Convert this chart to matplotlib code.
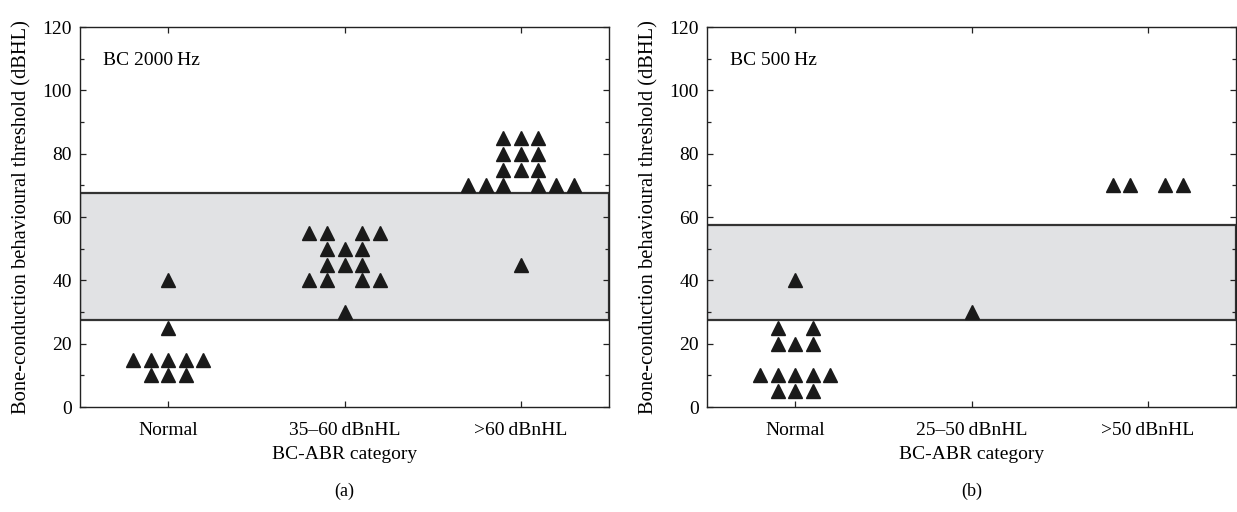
import numpy as np
import matplotlib.pyplot as plt
from matplotlib.ticker import MultipleLocator
from collections import Counter

plt.rcParams['font.family'] = ['Liberation Serif', 'DejaVu Serif']

#### Data ####
cats_a = ['Normal', '35\u201360\u2009dBnHL', '>60\u2009dBnHL']
vals_a = [
    [40, 25, 15, 15, 15, 15, 15, 10, 10, 10],
    [55, 55, 55, 55, 50, 50, 50, 45, 45, 45, 40, 40, 40, 40, 30],
    [85, 85, 85, 80, 80, 80, 75, 75, 75, 70, 70, 70, 70, 70, 70, 45],
]
band_a = [27.5, 67.5]
title_a = 'BC 2000\u2009Hz'

cats_b = ['Normal', '25\u201350\u2009dBnHL', '>50\u2009dBnHL']
vals_b = [
    [40, 25, 25, 20, 20, 20, 10, 10, 10, 10, 10, 5, 5, 5],
    [30],
    [70, 70, 70, 70],
]
band_b = [27.5, 57.5]
title_b = 'BC 500\u2009Hz'

ylab = 'Bone-conduction behavioural threshold (dBHL)'
xlab = 'BC-ABR category'

FS = 14


def spread(vals, step=0.1):
    # odd counts centred on the category, even counts leave the centre free
    xs, ys = [], []
    for v, n in Counter(vals).items():
        if n % 2:
            offs = (np.arange(n) - (n - 1) / 2) * step
        else:
            k = np.arange(1, n // 2 + 1) * step
            offs = np.concatenate([-k[::-1], k])
        xs.extend(offs)
        ys.extend([v] * n)
    return np.array(xs), np.array(ys)


def panel(ax, cats, vals, band, title, tag):
    ax.axhspan(band[0], band[1], facecolor='#e1e2e4', edgecolor='#333333',
               lw=1.6, zorder=1)
    for i, v in enumerate(vals):
        dx, y = spread(v)
        ax.plot(i + dx, y, ls='none', marker='^', ms=9.5, color='#1a1a1a',
                zorder=3, clip_on=False)
    ax.set_xlim(-0.5, 2.5)
    ax.set_ylim(0, 120)
    ax.set_xticks(range(len(cats)))
    ax.set_xticklabels(cats)
    ax.yaxis.set_major_locator(MultipleLocator(20))
    ax.yaxis.set_minor_locator(MultipleLocator(10))
    ax.tick_params(which='both', direction='in', top=True, right=True,
                   labelsize=FS, color='#222222', width=0.9)
    ax.tick_params(which='major', length=4)
    ax.tick_params(axis='y', which='major', pad=6)
    ax.tick_params(axis='x', which='major', pad=11)
    ax.tick_params(which='minor', length=3)
    for s in ax.spines.values():
        s.set_linewidth(1.0)
        s.set_color('#222222')
    ax.set_ylabel(ylab, fontsize=14.8, labelpad=8)
    ax.set_xlabel(xlab, fontsize=FS, labelpad=5)
    ax.text(0.043, 0.913, title, transform=ax.transAxes, fontsize=FS,
            va='center', ha='left')
    ax.text(0.5, -0.221, tag, transform=ax.transAxes, fontsize=13,
            va='center', ha='center')


fig = plt.figure(figsize=(12.37, 5.12), dpi=100)
ax1 = fig.add_axes([80 / 1237, 1 - 407 / 512, 529 / 1237, 380 / 512])
ax2 = fig.add_axes([707 / 1237, 1 - 407 / 512, 529 / 1237, 380 / 512])
panel(ax1, cats_a, vals_a, band_a, title_a, '(a)')
panel(ax2, cats_b, vals_b, band_b, title_b, '(b)')

fig.savefig('out.png', dpi=100)
